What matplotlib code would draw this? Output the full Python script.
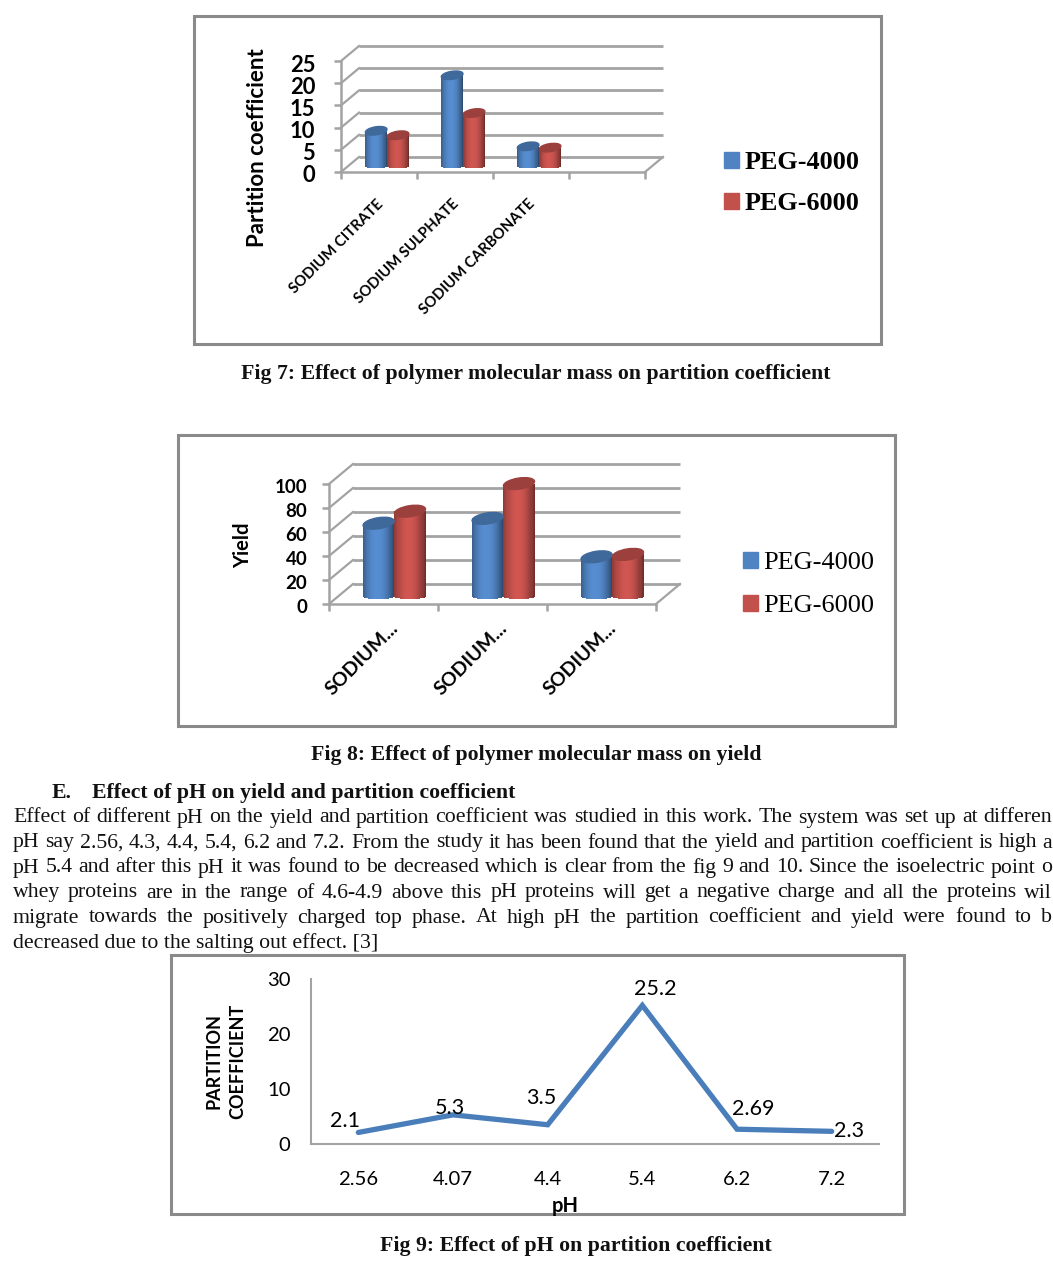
import matplotlib
matplotlib.use('Agg')
import matplotlib.pyplot as plt
import numpy as np
from matplotlib.patches import Ellipse, Patch, Rectangle
from matplotlib.lines import Line2D
from matplotlib.transforms import Affine2D, IdentityTransform

W, H = 1053, 1272
SANS = 'Lato'
SERIF = 'Liberation Serif'
GRID = '#a3a3a3'
FRAME = '#8a8a8a'
BLUE = np.array([0.33, 0.54, 0.80])
RED = np.array([0.80, 0.33, 0.31])
BODY_SIZE = 15.7

# fig 7
salts7 = ['SODIUM CITRATE', 'SODIUM SULPHATE', 'SODIUM CARBONATE']
peg4000_7 = [8.0, 20.5, 4.5]
peg6000_7 = [7.0, 12.0, 4.2]
ticks7 = [0, 5, 10, 15, 20, 25]

# fig 8
salts8 = ['SODIUM...', 'SODIUM...', 'SODIUM...']
peg4000_8 = [61, 65, 33]
peg6000_8 = [71, 94, 35]
ticks8 = [0, 20, 40, 60, 80, 100]

# fig 9
ph = ['2.56', '4.07', '4.4', '5.4', '6.2', '7.2']
partition = [2.1, 5.3, 3.5, 25.2, 2.69, 2.3]
ticks9 = [0, 10, 20, 30]

paragraph = [
    'Effect of different pH on the yield and partition coefficient was studied in this work. The system was set up at differen',
    'pH say 2.56, 4.3, 4.4, 5.4, 6.2 and 7.2. From the study it has been found that the yield and partition coefficient is high a',
    'pH 5.4 and after this pH it was found to be decreased which is clear from the fig 9 and 10. Since the isoelectric point o',
    'whey proteins are in the range of 4.6-4.9 above this pH proteins will get a negative charge and all the proteins wil',
    'migrate towards the positively charged top phase. At high pH the partition coefficient and yield were found to b',
]
last_line = 'decreased due to the salting out effect. [3]'


def px_axes(fig, x0, x1, ytop, ybot):
    return fig.add_axes([x0 / W, 1 - ybot / H, (x1 - x0) / W, (ybot - ytop) / H])


def cylinder(ax, trans, x, val, width, color, ell_px, ppu):
    # body is thin slices so it gets the shaded look, bottom edge follows an ellipse
    ts = np.linspace(-1, 1, 31)[:-1] + 1 / 30
    dw = width / 30
    for t in ts:
        shade = 1.02 - 0.42 * t ** 2 - 0.08 * t
        low = -(ell_px / 4) * np.sqrt(1 - t ** 2) / ppu
        ax.bar(x + t * width / 2, val - low, dw * 1.05, bottom=low,
               color=np.clip(color * shade, 0, 1), lw=0, transform=trans, clip_on=False, zorder=3)
    cx, cy = trans.transform((x, val))
    wpx = abs(trans.transform((x + width, 0))[0] - trans.transform((x, 0))[0])
    ax.add_patch(Ellipse((cx, cy), wpx, ell_px, angle=9, color=color * 0.76,
                         transform=IdentityTransform(), clip_on=False, zorder=4))


def chart3d(fig, box, n, ylim, yticks, salts, s1, s2, dx, dy, ell_px, tick_font, tick_pad, lab_font, lab_shift,
            legend_at, legend_weight, legend_size, legend_gap):
    ax = px_axes(fig, *box)
    ax.set_facecolor('none')
    ax.set_xlim(0, n)
    ax.set_ylim(0, ylim)
    back = ax.transData + Affine2D().translate(dx, dy)
    mid = ax.transData + Affine2D().translate(dx * 0.45, dy * 0.38)
    ax.hlines(yticks, 0, n, color=GRID, lw=2, transform=back, clip_on=False, zorder=1)
    for y in yticks:
        p0 = ax.transData.transform((0, y))
        ax.add_artist(Line2D([p0[0], p0[0] + dx], [p0[1], p0[1] + dy], color=GRID, lw=1.6,
                             transform=IdentityTransform(), clip_on=False))
    p1 = ax.transData.transform((n, 0))
    ax.add_artist(Line2D([p1[0], p1[0] + dx], [p1[1], p1[1] + dy], color=GRID, lw=1.6,
                         transform=IdentityTransform(), clip_on=False))

    w = 0.288
    ppu = (box[3] - box[2]) / ylim
    for i in range(len(salts)):
        cylinder(ax, mid, i + 0.5 - w / 2, s1[i], w, BLUE, ell_px, ppu)
        cylinder(ax, mid, i + 0.5 + w / 2, s2[i], w, RED, ell_px, ppu)

    for s in ['top', 'right']:
        ax.spines[s].set_visible(False)
    for s in ['left', 'bottom']:
        ax.spines[s].set_color(GRID)
        ax.spines[s].set_linewidth(1.8)
    ax.set_yticks(yticks)
    ax.set_xticks(range(n + 1))
    ax.set_xticklabels([])
    ax.set_xticks(np.arange(len(salts)) + 0.5, minor=True)
    ax.set_xticklabels(salts, minor=True, rotation=45, ha='right', va='top', rotation_mode='anchor',
                       fontfamily=SANS, fontweight='bold', fontsize=lab_font)
    ax.tick_params(axis='x', which='major', length=5, width=1.8, color=GRID)
    ax.tick_params(axis='x', which='minor', length=0, pad=20)
    ax.tick_params(axis='y', length=5, width=1.8, color=GRID, pad=tick_pad)
    for t in ax.get_xticklabels(minor=True):
        t.set_transform(t.get_transform() + Affine2D().translate(*lab_shift))
    for t in ax.get_yticklabels():
        t.set_fontfamily(SANS)
        t.set_fontweight('bold')
        t.set_fontsize(tick_font)
        t.set_transform(t.get_transform() + Affine2D().translate(0, -2))

    handles = [Patch(color=BLUE * 0.95, label='PEG-4000'), Patch(color=RED * 0.95, label='PEG-6000')]
    ax.legend(handles=handles, loc='upper left', bbox_to_anchor=legend_at, bbox_transform=page.transData,
              frameon=False, handlelength=0.56, handleheight=0.56, handletextpad=0.22, labelspacing=legend_gap,
              borderpad=0, borderaxespad=0,
              prop={'family': SERIF, 'weight': legend_weight, 'size': legend_size})
    return ax


fig = plt.figure(figsize=(W / 100, H / 100), dpi=100)
page = fig.add_axes([0, 0, 1, 1])
page.set_xlim(0, W)
page.set_ylim(H, 0)
page.axis('off')

# frames
for x0, y0, x1, y1 in [(194, 16, 881, 344), (178, 435, 895, 726), (171, 955, 904, 1214)]:
    page.add_patch(Rectangle((x0, y0), x1 - x0, y1 - y0, fill=False, ec=FRAME, lw=2.2))

ax1 = chart3d(fig, (341, 645, 61, 172), 4, 25, ticks7, salts7, peg4000_7, peg6000_7, 18, 15, 8, 15.8, 13.5, 10.7,
              (-3, 3), (724, 151), 'bold', 18.8, 0.70)
page.text(258, 148, 'Partition coefficient', rotation=90, ha='center', va='center',
          family=SANS, weight='bold', fontsize=16)

ax2 = chart3d(fig, (329, 656, 484, 604), 3, 100, ticks8, salts8, peg4000_8, peg6000_8, 24, 20, 11, 13.5, 10.6, 14,
              (6, 12), (743, 552), 'normal', 18.9, 0.78)
page.text(243, 545, 'Yield', rotation=90, ha='center', va='center', family=SANS, weight='bold', fontsize=14.5)

# fig 9 line chart
ax3 = px_axes(fig, 311, 879, 979, 1144)
ax3.set_facecolor('none')
x3 = np.arange(len(ph))
ax3.plot(x3, partition, color='#4a7ebb', lw=3.8, solid_capstyle='round', solid_joinstyle='miter')
ax3.set_xlim(-0.5, 5.5)
ax3.set_ylim(0, 30)
for s in ['top', 'right']:
    ax3.spines[s].set_visible(False)
for s in ['left', 'bottom']:
    ax3.spines[s].set_color(GRID)
    ax3.spines[s].set_linewidth(1.5)
ax3.set_xticks(x3)
ax3.set_xticklabels(ph, family=SANS, fontsize=14.6)
ax3.set_yticks(ticks9)
ax3.set_yticklabels([str(t) for t in ticks9], family=SANS, fontsize=14.6)
ax3.tick_params(axis='x', length=0, pad=19.5)
ax3.tick_params(axis='y', length=0, pad=14.7)
label_offsets = [(-13, 11), (-3, 7), (-6, 27), (13, 16), (16, 20), (17, 0)]
for i, v in enumerate(partition):
    ax3.annotate(str(v), (x3[i], v), xytext=label_offsets[i], textcoords='offset pixels',
                 ha='center', va='center', family=SANS, fontsize=15.5)
page.text(226, 1061, 'PARTITION\nCOEFFICIENT', rotation=90, ha='center', va='center', family=SANS,
          weight='bold', fontsize=13, linespacing=1.5, multialignment='center')
page.text(565, 1206, 'pH', ha='center', va='center', family=SANS, fontsize=14.5, weight='bold', zorder=5)

# captions and body text
cap = dict(ha='center', va='center', family=SERIF, weight='bold', fontsize=BODY_SIZE, color='#111111')
page.text(536, 374, 'Fig 7: Effect of polymer molecular mass on partition coefficient', **cap)
page.text(536, 755, 'Fig 8: Effect of polymer molecular mass on yield', **cap)
page.text(576, 1246, 'Fig 9: Effect of pH on partition coefficient', **cap)
page.text(52, 793, 'E.', ha='left', va='center', family=SERIF, weight='bold', fontsize=BODY_SIZE, color='#111111')
page.text(92, 793, 'Effect of pH on yield and partition coefficient', ha='left', va='center',
          family=SERIF, weight='bold', fontsize=BODY_SIZE, color='#111111')

renderer = fig.canvas.get_renderer()
for row, line in enumerate(paragraph):
    # justified to the page edge, word by word
    y = 818 + row * 25
    words = line.split()
    texts = [page.text(0, y, w, ha='left', va='center', family=SERIF, fontsize=BODY_SIZE, color='#111111') for w in words]
    widths = [t.get_window_extent(renderer).width for t in texts]
    gap = (W - 1 - 13 - sum(widths)) / (len(words) - 1)
    x = 13
    for t, wd in zip(texts, widths):
        t.set_x(x)
        x += wd + gap
page.text(13, 943, last_line, ha='left', va='center', family=SERIF, fontsize=BODY_SIZE, color='#111111')

plt.savefig('out.png', dpi=100)
